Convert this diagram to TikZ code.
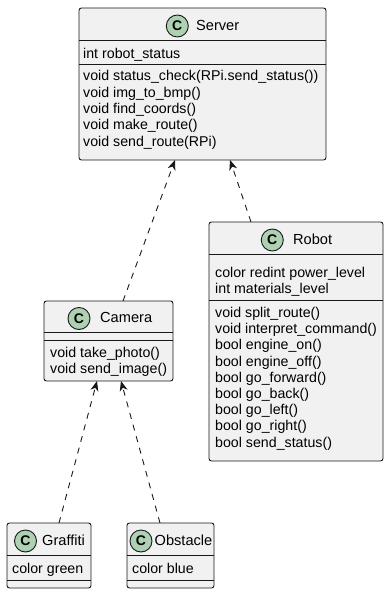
\documentclass[tikz,border=0pt]{standalone}
\usepackage{fontspec}
\setmainfont{Liberation Sans}
\usetikzlibrary{arrows.meta}
\definecolor{boxfill}{HTML}{F1F1F1}
\definecolor{boxline}{HTML}{181818}
\definecolor{badgefill}{HTML}{ADD1B2}
\begin{document}
\begin{tikzpicture}[x=1pt,y=-1pt,
  classbox/.style={draw=boxline, fill=boxfill, line width=0.9pt, rounded corners=2.5pt,
    inner sep=0pt, outer sep=0pt, anchor=north west},
  sepline/.style={draw=boxline, line width=0.9pt},
  badge/.style={circle, draw=boxline, fill=badgefill, line width=0.9pt, minimum size=22pt,
    inner sep=0pt, font=\fontsize{14}{16}\selectfont\bfseries},
  classname/.style={anchor=base west, inner sep=0pt, font=\fontsize{14.6}{17}\selectfont},
  member/.style={anchor=base west, inner sep=0pt, font=\fontsize{14.2}{16.25}\selectfont},
  dep/.style={draw=boxline, line width=0.9pt, dash pattern=on 6pt off 6pt,
    -{Stealth[length=10pt, width=8pt, inset=3pt]}}
]
\useasboundingbox (0,0) rectangle (389,594);

% ---- Server ----
\node[classbox, minimum width=247pt, minimum height=152pt] (server) at (79,8) {};
\draw[sepline] (79,40) -- (326,40);
\draw[sepline] (79,64.3) -- (326,64.3);
\node[badge] (serverC) at (177.3,26) {C};
\node[classname] (serverT) at (196,30.5) {Server};
\node[member] (serverA) at (83,58.3) {int robot\_status};
\foreach \t [count=\i] in {void status\_check(RPi.send\_status()), void img\_to\_bmp(),
    void find\_coords(), void make\_route(), void send\_route(RPi)}
  \node[member] (serverM\i) at (83,{81+16.25*(\i-1)}) {\t};

% ---- Robot ----
\node[classbox, minimum width=174pt, minimum height=239pt] (robot) at (209,222) {};
\draw[sepline] (209,254) -- (383,254);
\draw[sepline] (209,300) -- (383,300);
\node[badge] (robotC) at (272.3,240) {C};
\node[classname] (robotT) at (293,244.3) {Robot};
\node[member] (robotA1) at (215,277) {color redint power\_level};
\node[member] (robotA2) at (215,293.2) {int materials\_level};
\foreach \t [count=\i] in {void split\_route(), void interpret\_command(), bool engine\_on(),
    bool engine\_off(), bool go\_forward(), bool go\_back(), bool go\_left(),
    bool go\_right(), bool send\_status()}
  \node[member] (robotM\i) at (215,{317.5+16.2*(\i-1)}) {\t};

% ---- Camera ----
\node[classbox, minimum width=129pt, minimum height=80pt] (camera) at (44,301) {};
\draw[sepline] (44,332) -- (173,332);
\draw[sepline] (44,340) -- (173,340);
\node[badge] (cameraC) at (79,318.5) {C};
\node[classname] (cameraT) at (100,322.5) {Camera};
\node[member] (cameraM1) at (50,357.5) {void take\_photo()};
\node[member] (cameraM2) at (50,373.5) {void send\_image()};

% ---- Graffiti ----
\node[classbox, minimum width=84pt, minimum height=65pt] (graffiti) at (7,523) {};
\draw[sepline] (7,555) -- (91,555);
\draw[sepline] (7,580) -- (91,580);
\node[badge] (graffitiC) at (25.5,541) {C};
\node[classname] (graffitiT) at (42,545.3) {Graffiti};
\node[member] (graffitiA) at (12,573.5) {color green};

% ---- Obstacle ----
\node[classbox, minimum width=87pt, minimum height=65pt] (obstacle) at (127,523) {};
\draw[sepline] (127,555) -- (214,555);
\draw[sepline] (127,580) -- (214,580);
\node[badge] (obstacleC) at (141,541) {C};
\node[classname] (obstacleT) at (154.5,545.3) {Obstacle};
\node[member] (obstacleA) at (132,573.5) {color blue};

% ---- dependencies ----
\draw[dep] ([xshift=14.5pt]camera.north) -- ([xshift=-27.5pt]server.south);
\draw[dep] ([xshift=-45pt]robot.north) -- ([xshift=27.5pt]server.south);
\draw[dep] ([xshift=10pt]graffiti.north) -- ([xshift=-11.5pt]camera.south);
\draw[dep] ([xshift=-10.5pt]obstacle.north) -- ([xshift=12.5pt]camera.south);
\end{tikzpicture}
\end{document}
